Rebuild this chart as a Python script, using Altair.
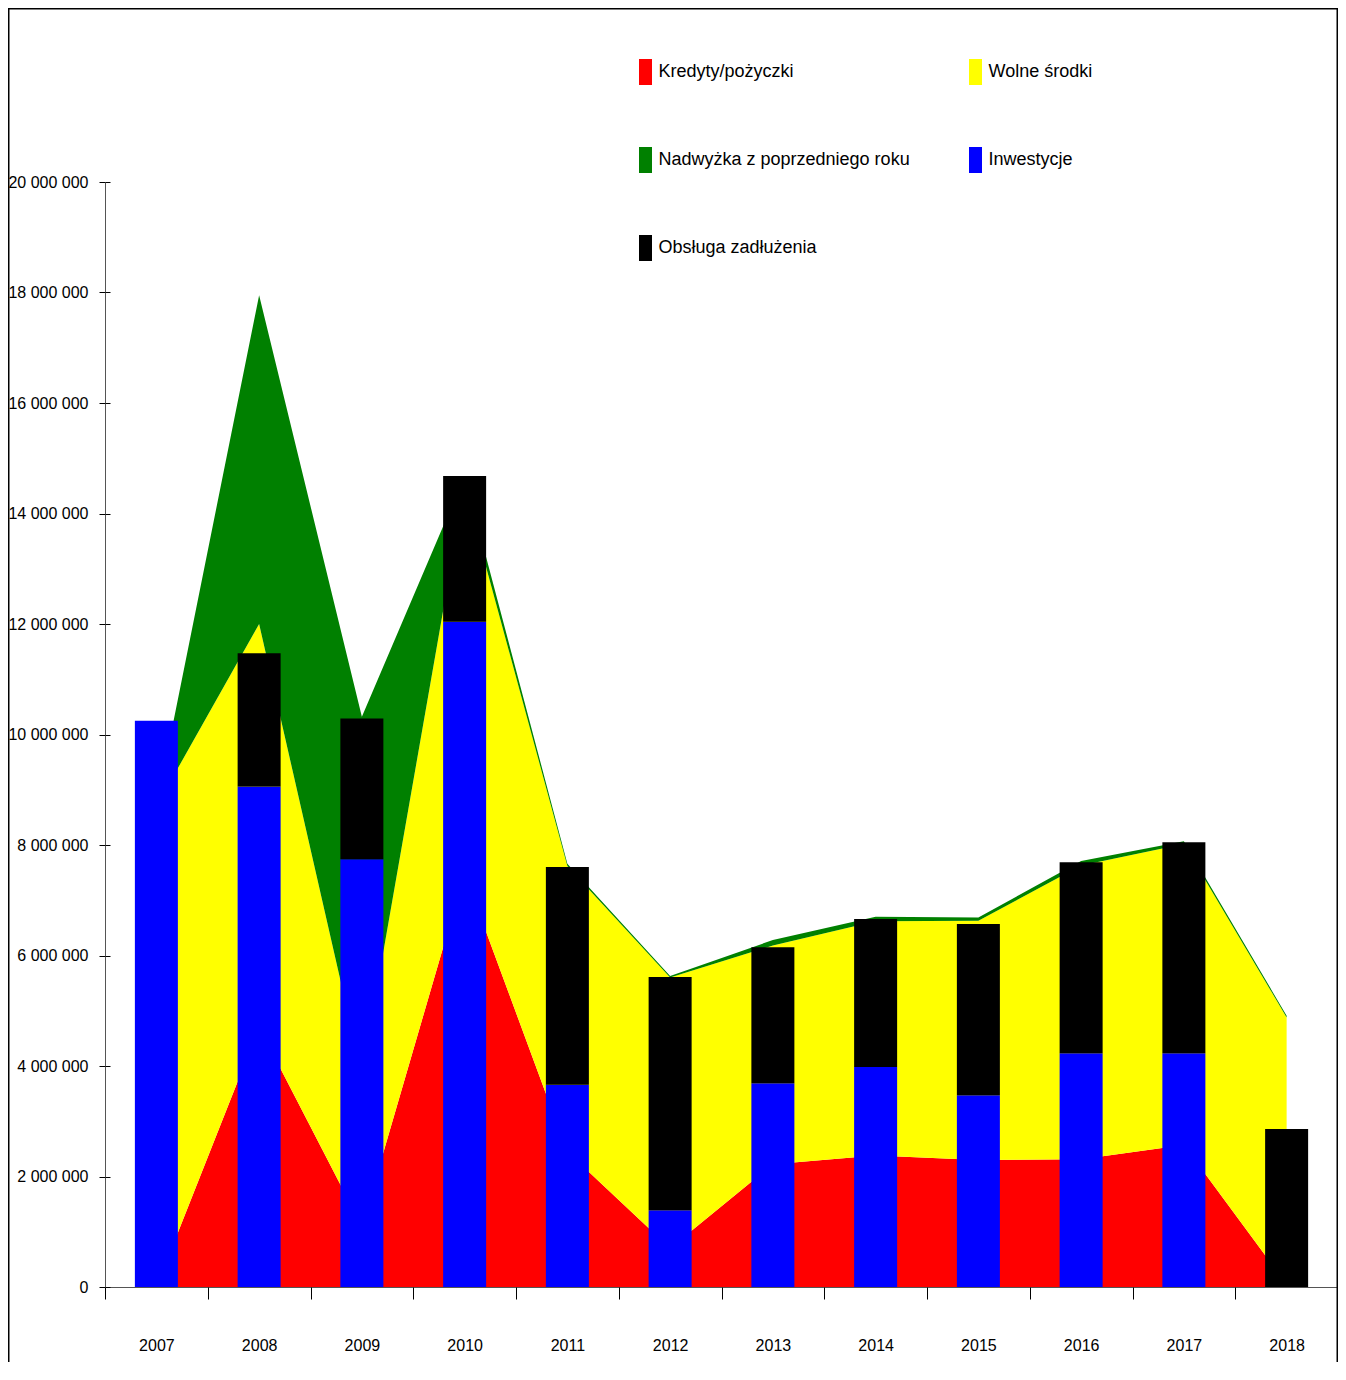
import altair as alt
import pandas as pd

years = [2007, 2008, 2009, 2010, 2011, 2012, 2013, 2014, 2015, 2016, 2017, 2018]

# stacked areas (bottom -> top)
kredyty = [0, 4700000, 1100000, 7480000, 2450000, 700000, 2220000, 2380000, 2300000, 2310000, 2570000, 50000]
wolne = [8700000, 7300000, 2750000, 6980000, 5170000, 4900000, 3960000, 4240000, 4330000, 5320000, 5450000, 4830000]
nadwyzka = [0, 5950000, 6470000, 220000, 40000, 30000, 100000, 80000, 60000, 80000, 50000, 30000]

# stacked bars (bottom -> top)
inwestycje = [10250000, 9060000, 7740000, 12040000, 3660000, 1390000, 3690000, 3980000, 3470000, 4230000, 4230000, 0]
obsluga = [0, 2410000, 2550000, 2640000, 3940000, 4220000, 2460000, 2680000, 3100000, 3460000, 3820000, 2860000]

area_names = ["Kredyty/pożyczki", "Wolne środki", "Nadwyżka z poprzedniego roku"]
bar_names = ["Inwestycje", "Obsługa zadłużenia"]
# legend order (filled column by column)
legend_names = ["Kredyty/pożyczki", "Nadwyżka z poprzedniego roku", "Obsługa zadłużenia", "Wolne środki", "Inwestycje"]
legend_colors = ["#ff0000", "#008000", "#000000", "#ffff00", "#0000ff"]
y_ticks = [0, 2000000, 4000000, 6000000, 8000000, 10000000, 12000000, 14000000, 16000000, 18000000, 20000000]

FONT = "Liberation Sans, Arial, sans-serif"

area_rows = []
for i, yr in enumerate(years):
    for k, (nm, vals) in enumerate(zip(area_names, [kredyty, wolne, nadwyzka])):
        area_rows.append({"rok": str(yr), "seria": nm, "wartosc": vals[i], "kolejnosc": k})
bar_rows = []
for i, yr in enumerate(years):
    for k, (nm, vals) in enumerate(zip(bar_names, [inwestycje, obsluga])):
        bar_rows.append({"rok": str(yr), "seria": nm, "wartosc": vals[i], "kolejnosc": k})

area_df = pd.DataFrame(area_rows)
bar_df = pd.DataFrame(bar_rows)

color = alt.Color(
    "seria:N",
    scale=alt.Scale(domain=legend_names, range=legend_colors),
    legend=alt.Legend(
        title=None,
        orient="none",
        legendX=527.5,
        legendY=-123,
        columns=2,
        columnPadding=52,
        rowPadding=62,
        symbolType="M-0.5,-1H0.5V1H-0.5Z",
        symbolSize=676,
        symbolStrokeWidth=0,
        symbolOpacity=1,
        labelFont=FONT,
        labelFontSize=18,
        labelColor="#000000",
        labelOffset=0,
        labelLimit=400,
        padding=0,
        gridAlign="all",
    ),
)

x_enc = alt.X(
    "rok:O",
    title=None,
    scale=alt.Scale(paddingInner=0, paddingOuter=0),
    axis=alt.Axis(
        tickBand="extent",
        labelAngle=0,
        labelFont=FONT,
        labelFontSize=16,
        labelColor="#000000",
        labelBaseline="middle",
        labelPadding=46,
        tickSize=12,
        tickColor="#000000",
        domainColor="#555555",
        grid=False,
    ),
)

y_enc = alt.Y(
    "wartosc:Q",
    title=None,
    stack="zero",
    scale=alt.Scale(domain=[0, 20000000], nice=False),
    axis=alt.Axis(
        values=y_ticks,
        labelExpr="replace(format(datum.value, ','), regexp(',', 'g'), ' ')",
        labelFont=FONT,
        labelFontSize=16,
        labelColor="#000000",
        labelPadding=11,
        tickSize=6,
        tickColor="#000000",
        domainColor="#555555",
        grid=False,
    ),
)

areas = alt.Chart(area_df).mark_area(interpolate="linear", opacity=1).encode(
    x=x_enc,
    y=y_enc,
    color=color,
    order=alt.Order("kolejnosc:Q"),
)

bars = alt.Chart(bar_df).mark_bar(size=43, opacity=1).encode(
    x=alt.X("rok:O", axis=None),
    y=alt.Y("wartosc:Q", stack="zero", axis=None),
    color=alt.Color("seria:N"),
    order=alt.Order("kolejnosc:Q"),
)

# inner halves of the crossing ticks
inner_ticks = alt.Chart(bar_df).mark_bar(size=1, opacity=0).encode(
    x=alt.X(
        "rok:O",
        axis=alt.Axis(
            orient="bottom", offset=-12, tickSize=12, tickBand="extent",
            labels=False, domain=False, tickColor="#000000", title=None, grid=False,
        ),
    ),
    y=alt.Y(
        "wartosc:Q",
        stack="zero",
        axis=alt.Axis(
            orient="left", offset=-5, tickSize=5, values=y_ticks,
            labels=False, domain=False, tickColor="#000000", title=None, grid=False,
        ),
    ),
)

frame = alt.Chart(pd.DataFrame({"f": [0]})).mark_rect(
    fill="transparent", stroke="#000000", strokeWidth=1.5
).encode(
    x=alt.value(-96.25),
    x2=alt.value(1232.25),
    y=alt.value(-173.25),
    y2=alt.value(1200),
)

chart = alt.layer(areas, bars, inner_ticks, frame).resolve_axis(
    x="independent", y="independent"
).properties(
    width=1233,
    height=1105,
    autosize=alt.AutoSizeParams(type="none"),
    padding={"left": 97, "top": 174, "right": 0, "bottom": 75},
).configure_view(stroke=None).configure_axis(labelFont=FONT)

chart.save("out.html", embed_options={"renderer": "svg", "actions": False})
